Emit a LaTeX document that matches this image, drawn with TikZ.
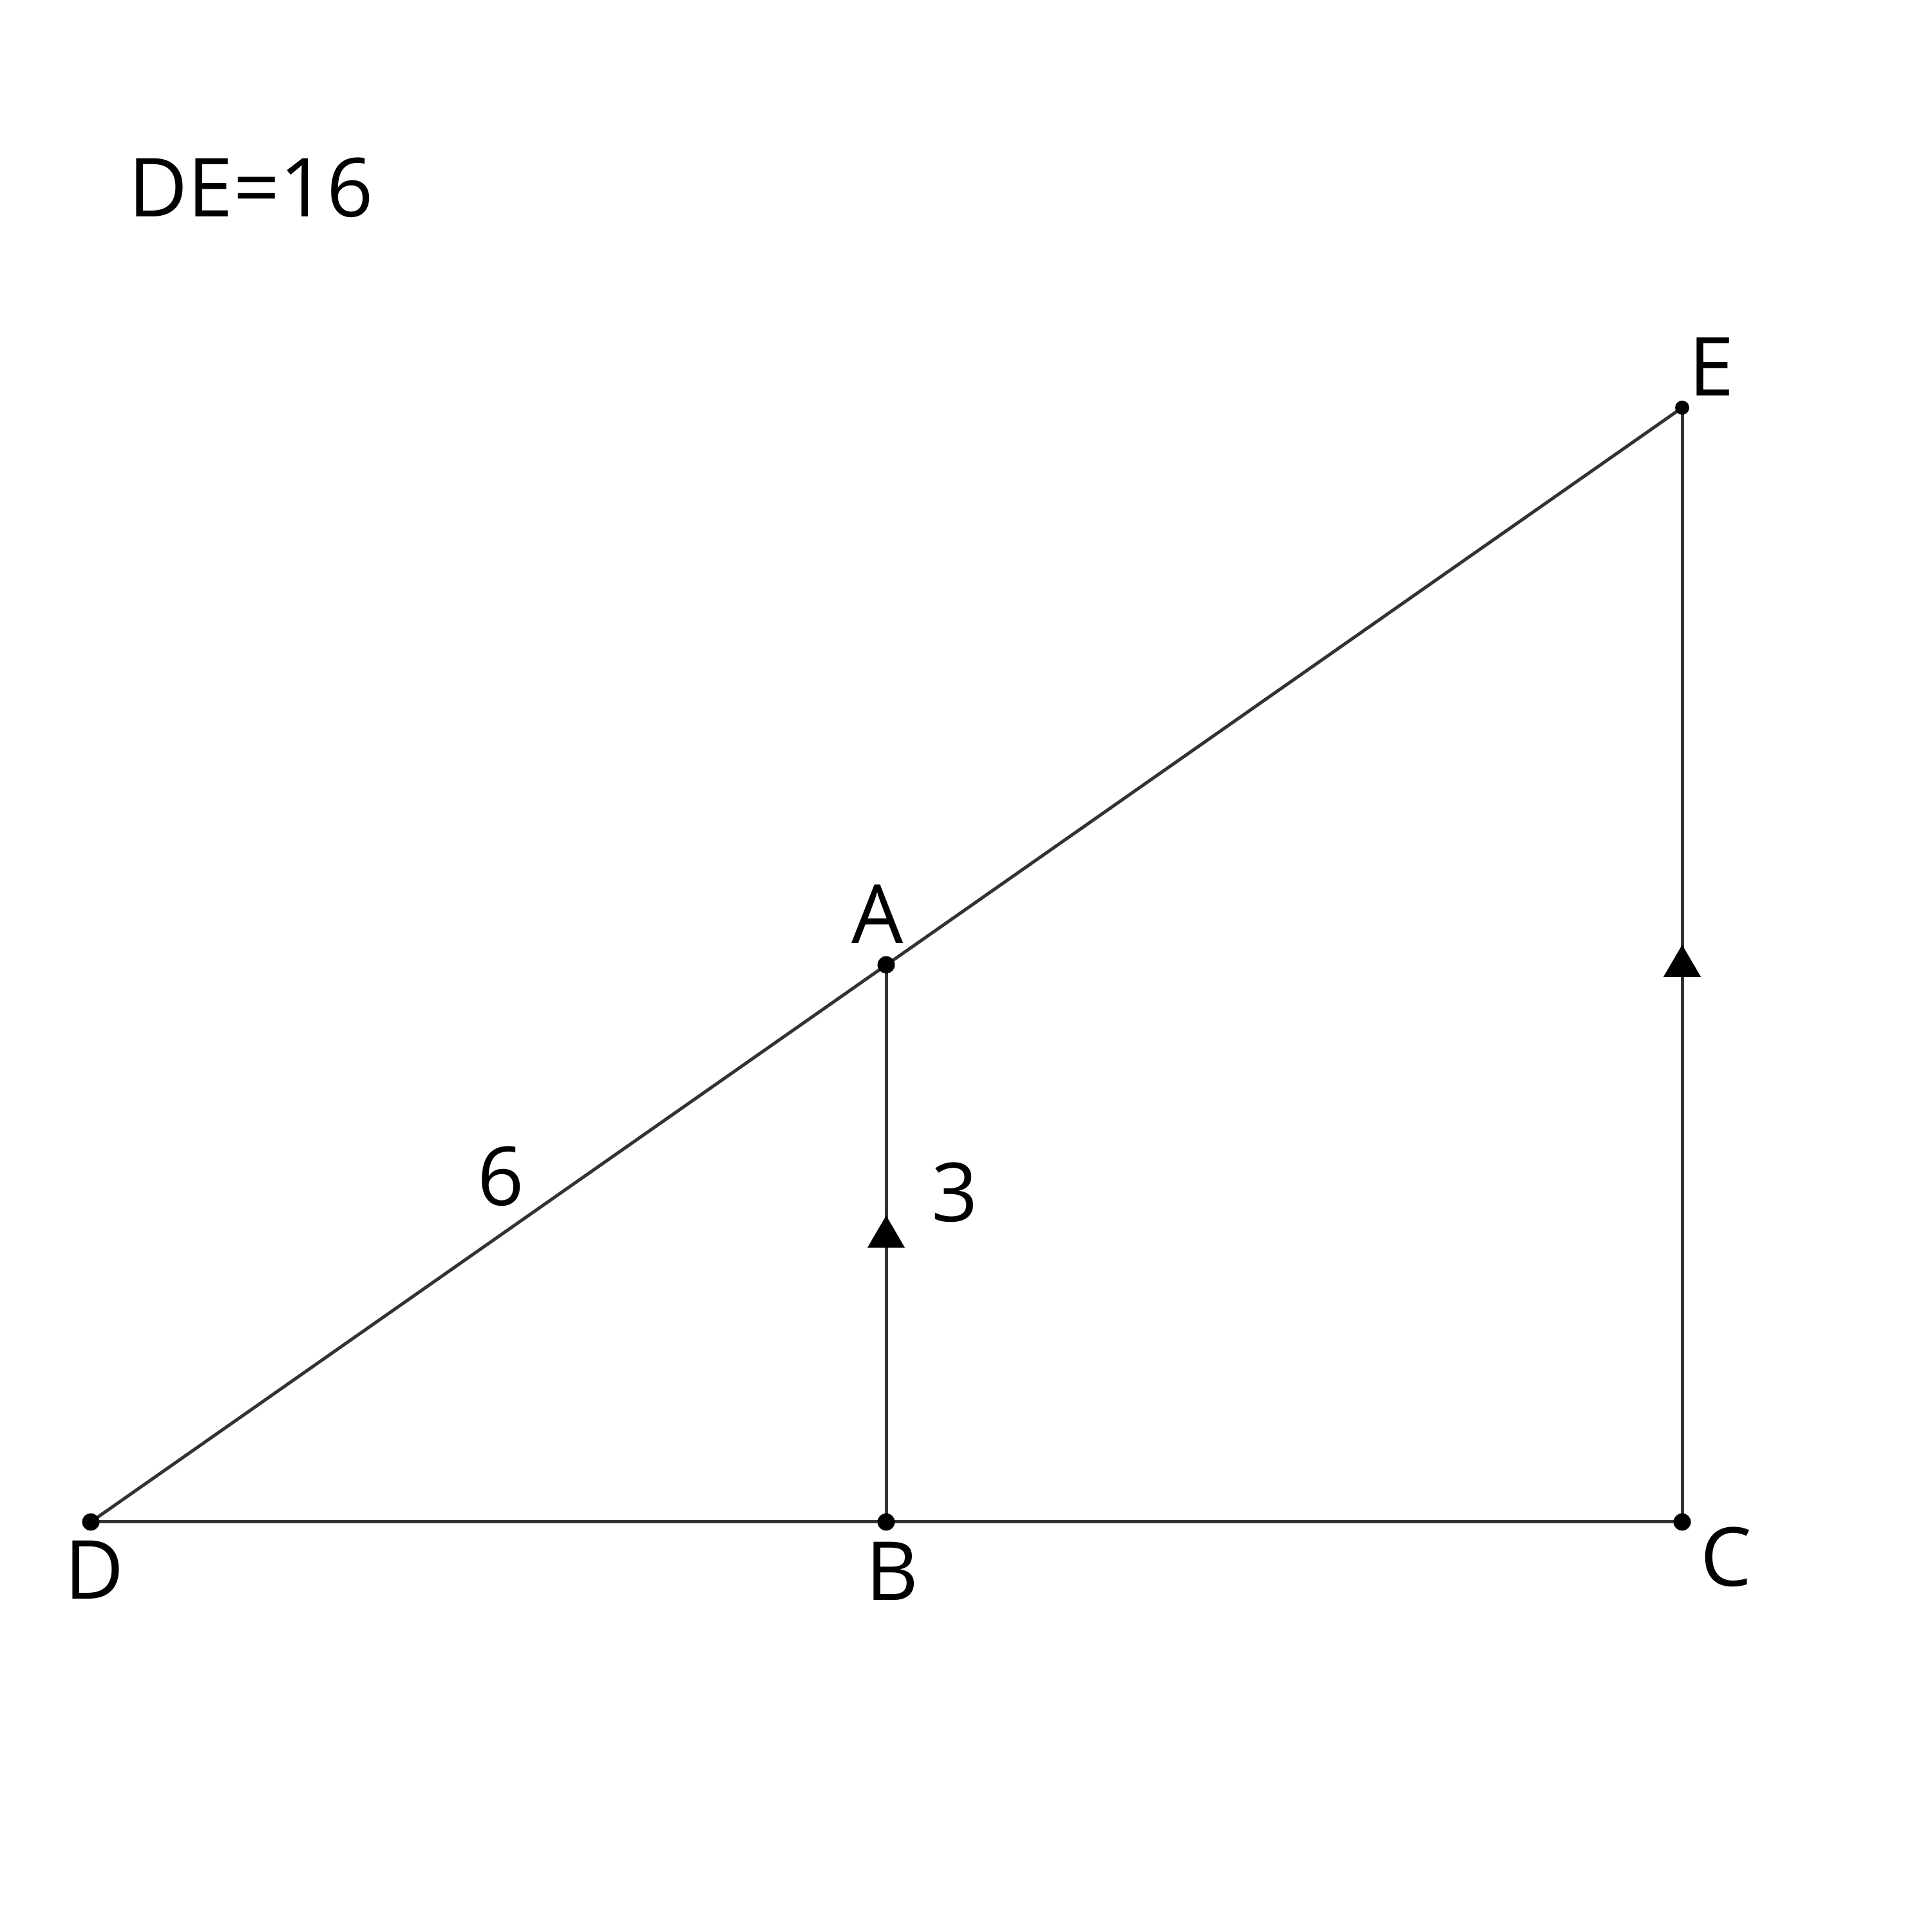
\documentclass[tikz,border=0pt]{standalone}
\usepackage{fontspec}
\setmainfont{Open Sans}
\usetikzlibrary{arrows.meta,decorations.markings}
\definecolor{ln}{HTML}{333333}
\begin{document}
\begin{tikzpicture}[
  seg/.style={draw=ln, line width=0.05cm},
  dot/.style={circle, fill=black, inner sep=0pt, minimum size=0.27cm},
  sdot/.style={circle, fill=black, inner sep=0pt, minimum size=0.22cm},
  lbl/.style={inner sep=0pt, anchor=base, font=\fontsize{36}{40}\selectfont},
  midarrow/.style={postaction={decorate}, decoration={markings,
     mark=at position #1 with {\arrow[black]{Triangle[width=0.57cm,length=0.5cm]}}}}
]
\useasboundingbox (0,0) rectangle (30,29.97);
\coordinate (D) at (1.41,6.34);
\coordinate (B) at (13.76,6.34);
\coordinate (C) at (26.12,6.34);
\coordinate (A) at (13.76,14.99);
\coordinate (E) at (26.12,23.64);
\draw[seg] (D) -- (C);
\draw[seg] (D) -- (E);
\draw[seg, midarrow=0.55] (B) -- (A);
\draw[seg, midarrow=0.518] (C) -- (E);
\node[dot] (nD) at (D) {};
\node[dot] (nB) at (B) {};
\node[dot] (nC) at (C) {};
\node[dot] (nA) at (A) {};
\node[sdot] (nE) at (E) {};
\node[lbl] (tDE) at (3.895,26.60) {DE=16};
\node[lbl] (tA) at (13.63,15.32) {A};
\node[lbl] (tD) at (1.47,5.14) {D};
\node[lbl] (tE) at (26.58,23.82) {E};
\node[lbl] (tC) at (26.80,5.34) {C};
\node[lbl] (tB) at (13.85,5.12) {B};
\node[lbl] (t6) at (7.78,11.25) {6};
\node[lbl] (t3) at (14.83,11.00) {3};
\end{tikzpicture}
\end{document}
